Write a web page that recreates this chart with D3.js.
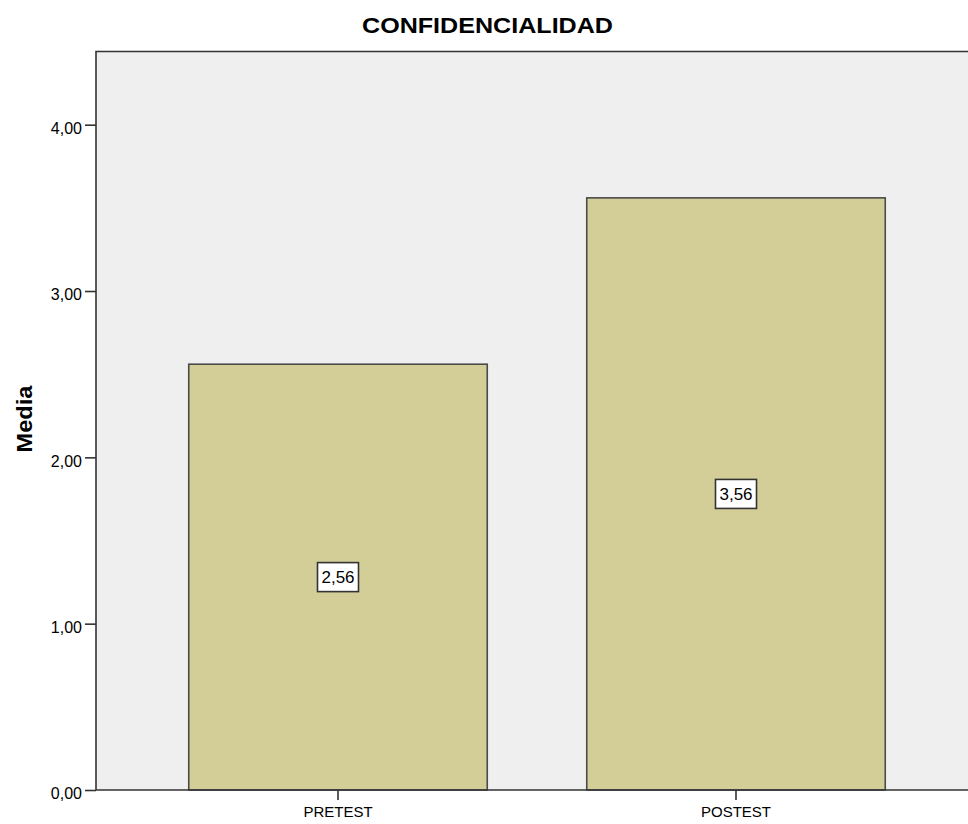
<!DOCTYPE html>
<html>
<head>
<meta charset="utf-8">
<script src="https://cdn.jsdelivr.net/npm/d3@7"></script>
<style>
  html, body { margin: 0; padding: 0; background: #ffffff; }
  svg { display: block; }
  text { font-family: "Liberation Sans", Arial, sans-serif; fill: #000; }
</style>
</head>
<body>
<script>
// Mean score of the "Confidencialidad" dimension, before and after
const categories = ["PRETEST", "POSTEST"];
const means = [2.56, 3.56];
const yTicks = [0, 1, 2, 3, 4];
const chartTitle = "CONFIDENCIALIDAD";
const yTitle = "Media";

const W = 968, H = 824;
const plot = { left: 96, top: 51.5, right: 975, bottom: 790 };

const svg = d3.select("body").append("svg")
  .attr("width", W).attr("height", H);

const y = d3.scaleLinear().domain([0, 4.44]).range([plot.bottom, plot.top]);
const x = d3.scaleBand().domain(categories)
  .range([139, 935]).paddingInner(0.25).paddingOuter(0.125);

const fmt = v => d3.format(".2f")(v).replace(".", ",");

// plot background
svg.append("rect")
  .attr("x", plot.left).attr("y", plot.top)
  .attr("width", plot.right - plot.left).attr("height", plot.bottom - plot.top)
  .attr("fill", "#efefef");

// bars
svg.append("g").selectAll("rect").data(categories).join("rect")
  .attr("x", d => x(d))
  .attr("y", (d, i) => y(means[i]))
  .attr("width", x.bandwidth())
  .attr("height", (d, i) => y(0) - y(means[i]))
  .attr("fill", "#d3ce98")
  .attr("stroke", "#4a4a4a")
  .attr("stroke-width", 1.6);

// plot frame: top, left and bottom edges
svg.append("path")
  .attr("d", `M${plot.right},${plot.top}H${plot.left}V${plot.bottom}H${plot.right}`)
  .attr("fill", "none").attr("stroke", "#333").attr("stroke-width", 1.6);

// y axis
const yAxis = svg.append("g")
  .attr("transform", `translate(${plot.left},0)`)
  .call(d3.axisLeft(y).tickValues(yTicks).tickFormat(fmt).tickSize(11).tickPadding(3));
yAxis.select(".domain").remove();
yAxis.selectAll(".tick line").attr("stroke", "#333").attr("stroke-width", 1.6);
yAxis.selectAll(".tick text")
  .attr("font-size", 16).attr("dy", "0.55em")
  .style("font-family", "'Liberation Sans', Arial, sans-serif").attr("fill", "#111");

// x axis
const xAxis = svg.append("g")
  .attr("transform", `translate(0,${plot.bottom})`)
  .call(d3.axisBottom(x).tickSize(10).tickPadding(6));
xAxis.select(".domain").remove();
xAxis.selectAll(".tick line").attr("stroke", "#333").attr("stroke-width", 1.6);
xAxis.selectAll(".tick text")
  .attr("font-size", 15)
  .style("font-family", "'Liberation Sans', Arial, sans-serif").attr("fill", "#111");

// value labels in boxes at mid-height of each bar
const labels = svg.append("g").selectAll("g").data(categories).join("g")
  .attr("transform", (d, i) =>
    `translate(${x(d) + x.bandwidth() / 2},${y(means[i] / 2)})`);
labels.append("rect")
  .attr("x", -20.5).attr("y", -14.5).attr("width", 41).attr("height", 29)
  .attr("fill", "#fff").attr("stroke", "#333").attr("stroke-width", 1.6);
labels.append("text")
  .attr("text-anchor", "middle").attr("dy", "0.36em")
  .attr("font-size", 17).attr("fill", "#111")
  .text((d, i) => fmt(means[i]));

// title
svg.append("text")
  .attr("x", 487.5).attr("y", 33)
  .attr("text-anchor", "middle")
  .attr("font-size", 22.5).attr("font-weight", "bold")
  .attr("textLength", 251).attr("lengthAdjust", "spacingAndGlyphs")
  .text(chartTitle);

// y axis title
svg.append("text")
  .attr("transform", `translate(31.5,419) rotate(-90)`)
  .attr("text-anchor", "middle")
  .attr("font-size", 22.5).attr("font-weight", "bold")
  .attr("textLength", 67).attr("lengthAdjust", "spacingAndGlyphs")
  .text(yTitle);
</script>
</body>
</html>
